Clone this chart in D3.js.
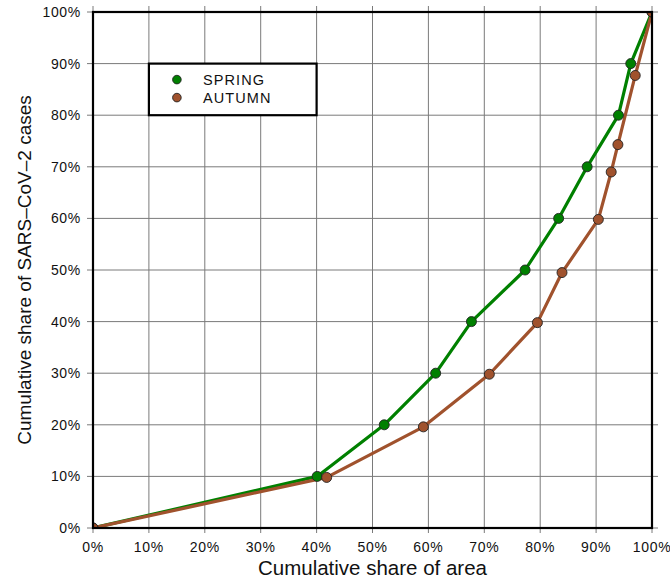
<!DOCTYPE html>
<html lang="en">
  <head>
    <meta charset="UTF-8" />
    <title>Cumulative share of cases vs area</title>
    <style>
      body {
        margin: 0;
        background: #fff;
        font-family: "Liberation Sans", Arial, sans-serif;
      }
      .grid line {
        stroke: #7a7a7a;
        stroke-width: 1;
      }
      .tick-label {
        font-size: 14px;
        letter-spacing: 0.7px;
        fill: #111;
      }
      .axis-title {
        fill: #111;
      }
      .legend-text {
        font-size: 14.5px;
        letter-spacing: 1.1px;
        fill: #111;
      }
    </style>
  </head>
  <body>
    <div id="chart"></div>
    <script src="https://d3js.org/d3.v7.min.js"></script>
    <script>
      // values (percent)
      const springArea = [0, 40.1, 52.1, 61.3, 67.7, 77.3, 83.3, 88.4, 94.0, 96.2, 100];
      const springCases = [0, 10, 20, 30, 40, 50, 60, 70, 80, 90, 100];
      const autumnArea = [0, 41.8, 59.1, 70.9, 79.5, 83.9, 90.4, 92.7, 93.9, 97.0, 100];
      const autumnCases = [0, 9.8, 19.6, 29.8, 39.8, 49.5, 59.8, 69.0, 74.3, 87.7, 100];
      const tickValues = [0, 10, 20, 30, 40, 50, 60, 70, 80, 90, 100];
      const seriesNames = ["SPRING", "AUTUMN"];
      const seriesColors = ["#008000", "#a0522d"];

      const width = 670;
      const height = 579;
      const margin = { top: 12, right: 18, bottom: 51, left: 93 };
      const innerW = width - margin.left - margin.right;
      const innerH = height - margin.top - margin.bottom;

      const svg = d3
        .select("#chart")
        .append("svg")
        .attr("width", width)
        .attr("height", height);

      const g = svg
        .append("g")
        .attr("transform", `translate(${margin.left},${margin.top})`);

      const x = d3.scaleLinear().domain([0, 100]).range([0, innerW]);
      const y = d3.scaleLinear().domain([0, 100]).range([innerH, 0]);

      g.append("clipPath")
        .attr("id", "plot-clip")
        .append("rect")
        .attr("width", innerW)
        .attr("height", innerH);

      // grid, poking out a bit on every side like the original
      const grid = g.append("g").attr("class", "grid");
      grid
        .selectAll("line.v")
        .data(tickValues)
        .enter()
        .append("line")
        .attr("class", "v")
        .attr("x1", (d) => x(d))
        .attr("x2", (d) => x(d))
        .attr("y1", -6)
        .attr("y2", innerH + 5);
      grid
        .selectAll("line.h")
        .data(tickValues)
        .enter()
        .append("line")
        .attr("class", "h")
        .attr("x1", -6)
        .attr("x2", innerW + 6)
        .attr("y1", (d) => y(d))
        .attr("y2", (d) => y(d));

      // tick labels
      g.selectAll("text.xl")
        .data(tickValues)
        .enter()
        .append("text")
        .attr("class", "tick-label")
        .attr("x", (d) => x(d))
        .attr("y", innerH + 24)
        .attr("text-anchor", "middle")
        .text((d) => d + "%");
      g.selectAll("text.yl")
        .data(tickValues)
        .enter()
        .append("text")
        .attr("class", "tick-label")
        .attr("x", -12)
        .attr("y", (d) => y(d))
        .attr("dy", "0.36em")
        .attr("text-anchor", "end")
        .text((d) => d + "%");

      // series
      const series = [
        { name: seriesNames[0], color: seriesColors[0], xs: springArea, ys: springCases },
        { name: seriesNames[1], color: seriesColors[1], xs: autumnArea, ys: autumnCases },
      ];

      const line = d3
        .line()
        .x((d) => x(d[0]))
        .y((d) => y(d[1]));

      const plot = g.append("g").attr("clip-path", "url(#plot-clip)");

      series.forEach((s) => {
        const pts = d3.zip(s.xs, s.ys);
        plot
          .append("path")
          .datum(pts)
          .attr("d", line)
          .attr("fill", "none")
          .attr("stroke", s.color)
          .attr("stroke-width", 3.2)
          .attr("stroke-linejoin", "round");
      });

      series.forEach((s) => {
        const pts = d3.zip(s.xs, s.ys);
        plot
          .selectAll(null)
          .data(pts)
          .enter()
          .append("circle")
          .attr("cx", (d) => x(d[0]))
          .attr("cy", (d) => y(d[1]))
          .attr("r", 5)
          .attr("fill", s.color)
          .attr("stroke", "#222")
          .attr("stroke-width", 0.9);
      });

      // frame
      g.append("rect")
        .attr("width", innerW)
        .attr("height", innerH)
        .attr("fill", "none")
        .attr("stroke", "#000")
        .attr("stroke-width", 2.2);

      // legend, sits on grid cells 10%-40% x 80%-90%
      const legend = g.append("g");
      legend
        .append("rect")
        .attr("x", x(10))
        .attr("y", y(90))
        .attr("width", x(40) - x(10))
        .attr("height", y(80) - y(90))
        .attr("fill", "#fff")
        .attr("stroke", "#000")
        .attr("stroke-width", 2.2);
      series.forEach((s, i) => {
        const ly = y(90) + 16 + i * 18;
        legend
          .append("circle")
          .attr("cx", x(10) + 28)
          .attr("cy", ly)
          .attr("r", 4.3)
          .attr("fill", s.color)
          .attr("stroke", "#222")
          .attr("stroke-width", 0.9);
        legend
          .append("text")
          .attr("class", "legend-text")
          .attr("x", x(10) + 54)
          .attr("y", ly)
          .attr("dy", "0.36em")
          .text(s.name);
      });

      // axis titles
      svg
        .append("text")
        .attr("class", "axis-title")
        .attr("x", margin.left + innerW / 2)
        .attr("y", height - 4)
        .attr("text-anchor", "middle")
        .style("font-size", "20.5px")
        .text("Cumulative share of area");
      svg
        .append("text")
        .attr("class", "axis-title")
        .attr("transform", `translate(31,${margin.top + innerH / 2}) rotate(-90)`)
        .attr("text-anchor", "middle")
        .style("font-size", "19px")
        .text("Cumulative share of SARS\u2013CoV\u20132 cases");
    </script>
  </body>
</html>
